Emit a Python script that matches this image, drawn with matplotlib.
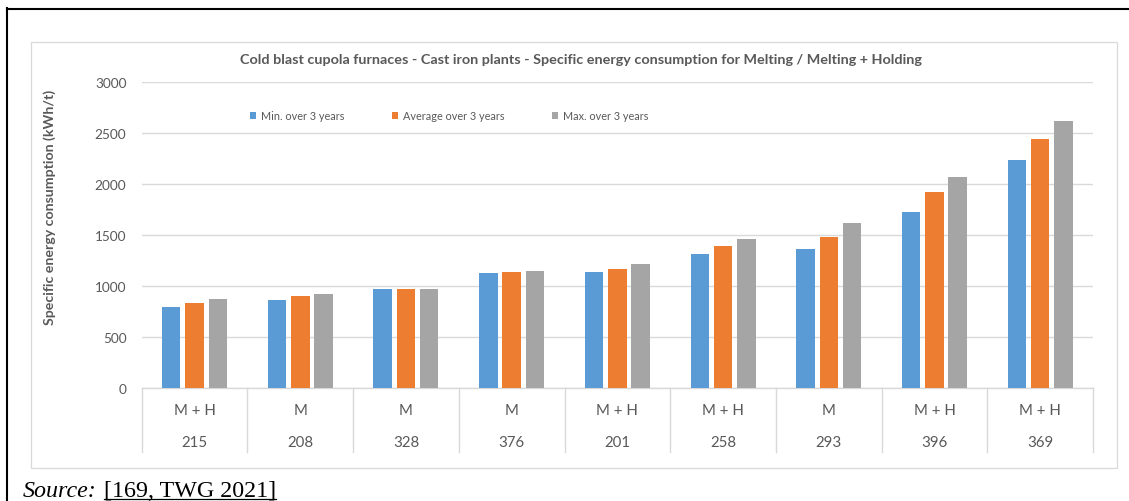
import matplotlib
matplotlib.use("Agg")
import matplotlib.pyplot as plt
from matplotlib.lines import Line2D
from matplotlib.patches import Rectangle
from matplotlib.transforms import blended_transform_factory
import numpy as np

# ---- data ----
types = ["M + H", "M", "M", "M", "M + H", "M + H", "M", "M + H", "M + H"]
plants = ["215", "208", "328", "376", "201", "258", "293", "396", "369"]
min_vals = [795, 865, 975, 1125, 1135, 1310, 1360, 1730, 2240]
avg_vals = [835, 900, 975, 1135, 1170, 1390, 1480, 1920, 2440]
max_vals = [875, 925, 975, 1150, 1220, 1460, 1615, 2065, 2615]
series_names = ["Min. over 3 years", "Average over 3 years", "Max. over 3 years"]
series_colors = ["#5B9BD5", "#ED7D31", "#A5A5A5"]
yticks = [0, 500, 1000, 1500, 2000, 2500, 3000]
title = "Cold blast cupola furnaces - Cast iron plants - Specific energy consumption for Melting / Melting + Holding"
ylabel = "Specific energy consumption (kWh/t)"

W, H = 1129, 502
fig = plt.figure(figsize=(W / 100, H / 100), dpi=100)
plt.rcParams['font.family'] = ['Lato', 'DejaVu Sans']

def fx(px):
    return px / W

def fy(py):
    return 1 - py / H

TXT = "#595959"
GRID = "#D9D9D9"

# outer black lines
fig.add_artist(Line2D([fx(7), 1.0], [fy(10), fy(10)], color="black", lw=1.5))
fig.add_artist(Line2D([fx(7), fx(7)], [fy(9), 0.0], color="black", lw=1.5))
# chart area border
fig.add_artist(Rectangle((fx(30.7), fy(469.3)), fx(1116.7) - fx(30.7), fy(42.7) - fy(469.3),
                         fill=False, edgecolor=GRID, lw=0.9))

ax_l, ax_r, ax_t, ax_b = 141.7, 1093.0, 83.0, 389.0
ax = fig.add_axes([fx(ax_l), fy(ax_b), fx(ax_r) - fx(ax_l), fy(ax_t) - fy(ax_b)])

n = len(plants)
x = np.arange(n) + 0.5
bw = 18.5 / ((ax_r - ax_l) / n)
pitch = 23.3 / ((ax_r - ax_l) / n)
for k, (vals, col, name) in enumerate(zip([min_vals, avg_vals, max_vals], series_colors, series_names)):
    ax.bar(x + (k - 1) * pitch, vals, width=bw, color=col, label=name, zorder=3, linewidth=0)

ax.set_xlim(0, n)
ax.set_ylim(0, 3000)
ax.set_yticks(yticks)
ax.set_yticklabels([str(t) for t in yticks])
ax.grid(axis="y", color=GRID, lw=1.0, zorder=0)
ax.set_axisbelow(True)
for s in ["top", "right", "left"]:
    ax.spines[s].set_visible(False)
ax.spines["bottom"].set_color(GRID)
ax.spines["bottom"].set_linewidth(1.0)
ax.tick_params(axis="y", length=0, pad=11, labelsize=9.8, labelcolor=TXT)
ax.tick_params(axis="x", length=0, labelbottom=False)

# category separators and labels
tr = blended_transform_factory(ax.transData, ax.transAxes)
hgt = ax_b - ax_t
y_sep = -(453 - ax_b) / hgt
for i in range(n + 1):
    ax.add_line(Line2D([i, i], [0, y_sep], transform=tr, color=GRID, lw=1.0, clip_on=False))
for i in range(n):
    ax.text(x[i], -(411.5 - ax_b) / hgt, types[i], transform=tr, ha="center", va="center",
            fontsize=10.8, color=TXT)
    ax.text(x[i], -(443 - ax_b) / hgt, plants[i], transform=tr, ha="center", va="center",
            fontsize=10.8, color=TXT)

# title
fig.text(fx(581), fy(60), title, ha="center", va="center", fontsize=10.4,
         fontweight="bold", color=TXT)
# y label
fig.text(fx(50), fy(207), ylabel, ha="center", va="center", rotation=90, fontsize=10.2,
         fontweight="bold", color=TXT)

# legend
leg = ax.legend(loc="center", bbox_to_anchor=(fx(449), fy(117)), bbox_transform=fig.transFigure,
                ncol=3, frameon=False, fontsize=7.8, handlelength=0.6, handleheight=0.6,
                handletextpad=0.4, columnspacing=4.4, labelcolor=TXT)

# source
src1 = fig.text(fx(23), fy(497), "Source:", ha="left", va="baseline", fontsize=17.3,
                family="Liberation Serif", style="italic", color="black")
fig.canvas.draw()
r = fig.canvas.get_renderer()
bb = src1.get_window_extent(r)
src2 = fig.text(bb.x1 / W + fx(7), fy(497), "[169, TWG 2021]", ha="left", va="baseline", fontsize=17.3,
                family="Liberation Serif", color="black")
fig.canvas.draw()
bb2 = src2.get_window_extent(r)
fig.add_artist(Line2D([bb2.x0 / W, bb2.x1 / W], [fy(500), fy(500)], color="black", lw=0.9))

fig.savefig("out.png", dpi=100)
